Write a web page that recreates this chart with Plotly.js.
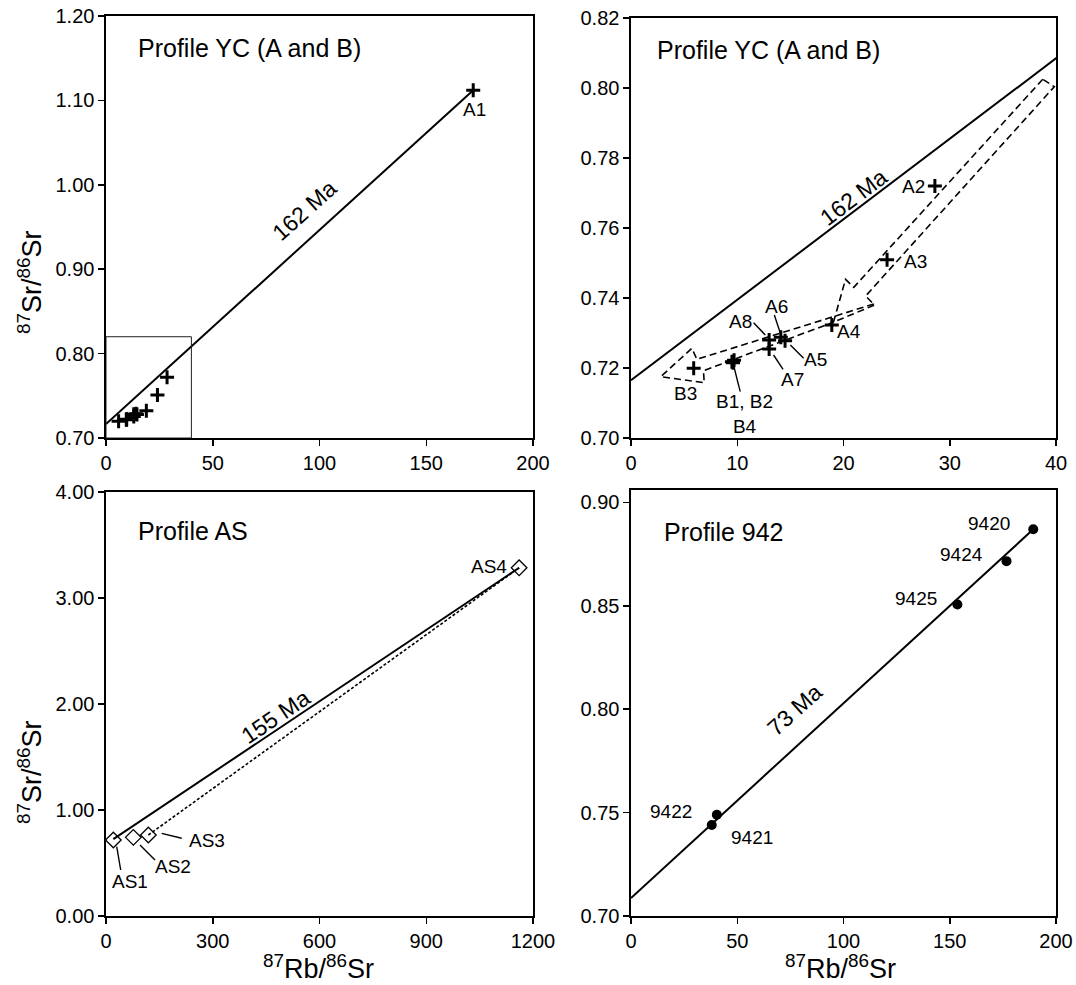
<!DOCTYPE html>
<html>
<head>
<meta charset="utf-8">
<script src="https://cdn.plot.ly/plotly-3.0.1.min.js"></script>
<style>html,body{margin:0;padding:0;background:#fff}#chart{width:1076px;height:985px}</style>
</head>
<body>
<div id="chart"></div>
<script>
// ---- Data ----
// Profile YC (A and B): 87Rb/86Sr and 87Sr/86Sr
const ycNames = ['A1','A2','A3','A4','A5','A6','A7','A8','B1','B2','B3','B4'];
const ycRbSr  = [172.0, 28.6, 24.1, 18.9, 14.5, 14.1, 13.0, 13.0, 9.5, 9.7, 5.9, 9.6];
const ycSrSr  = [1.112, 0.772, 0.7509, 0.7323, 0.7278, 0.7288, 0.7254, 0.7280, 0.7218, 0.7222, 0.7199, 0.7215];
// 162 Ma isochron end points
const iso162X = [0, 172.0];
const iso162Y = [0.7165, 1.112];
// Profile AS
const asNames = ['AS1','AS2','AS3','AS4'];
const asRbSr  = [20.6, 76.8, 119.0, 1161.0];
const asSrSr  = [0.717, 0.742, 0.764, 3.285];
const iso155X = [20.6, 1161.0];
const iso155Y = [0.725, 3.285];
const asFitX  = [119.0, 1161.0];
const asFitY  = [0.764, 3.285];
// Profile 942
const p942Names = ['9420','9424','9425','9422','9421'];
const p942RbSr  = [189.3, 176.7, 153.6, 40.4, 38.0];
const p942SrSr  = [0.887, 0.8716, 0.8506, 0.749, 0.744];
const iso73X = [0, 189.3];
const iso73Y = [0.7087, 0.887];
// Trend arrows (dashed outlines) in Profile YC detail
const arrow1X = [38.75, 20.97, 20.19, 19.06, 22.92, 22.08, 39.84, 38.75];
const arrow1Y = [0.80249, 0.74306, 0.74534, 0.7331, 0.7380, 0.74057, 0.80037, 0.80249];
const arrow2X = [22.86, 6.20, 5.73, 2.80, 6.89, 6.82, 19.06];
const arrow2Y = [0.73829, 0.72249, 0.72563, 0.71751, 0.7158, 0.71923, 0.7331];
// Leader lines (pairs of points)
const leadYCX = [[11.54,12.64],[13.49,14.06],[15.0,16.25],[13.42,14.31],[9.65,10.28]];
const leadYCY = [[0.73294,0.72943],[0.73514,0.72991],[0.72657,0.72277],[0.72371,0.71963],[0.72086,0.71323]];
const leadASX = [[30.1,41.3],[95.5,137.7],[156.5,212.7]];
const leadASY = [[0.654,0.434],[0.670,0.528],[0.780,0.733]];

// ---- Figure ----
const FONT = 'Liberation Sans, Arial, Helvetica, sans-serif';
const W = 1076, H = 985;
const px = v => v / W;
const py = v => 1 - v / H;

const traces = [];
// Top-left
traces.push({x: iso162X, y: iso162Y, xaxis:'x', yaxis:'y', mode:'lines', line:{color:'#000', width:2}, hoverinfo:'skip'});
traces.push({x: ycRbSr, y: ycSrSr, text: ycNames, xaxis:'x', yaxis:'y', mode:'markers',
  marker:{symbol:'cross-thin', size:10, line:{color:'#000', width:3}}});
// Top-right
traces.push({x: iso162X, y: iso162Y, xaxis:'x2', yaxis:'y2', mode:'lines', line:{color:'#000', width:2}, hoverinfo:'skip'});
traces.push({x: arrow1X, y: arrow1Y, xaxis:'x2', yaxis:'y2', mode:'lines', line:{color:'#000', width:1.6, dash:'7px,4px'}});
traces.push({x: arrow2X, y: arrow2Y, xaxis:'x2', yaxis:'y2', mode:'lines', line:{color:'#000', width:1.6, dash:'7px,4px'}});
for (let i = 0; i < leadYCX.length; i++) {
  traces.push({x: leadYCX[i], y: leadYCY[i], xaxis:'x2', yaxis:'y2', mode:'lines', line:{color:'#000', width:1.4}});
}
traces.push({x: ycRbSr, y: ycSrSr, text: ycNames, xaxis:'x2', yaxis:'y2', mode:'markers',
  marker:{symbol:'cross-thin', size:10, line:{color:'#000', width:3}}});
// Bottom-left
traces.push({x: iso155X, y: iso155Y, xaxis:'x3', yaxis:'y3', mode:'lines', line:{color:'#000', width:2}});
traces.push({x: asFitX, y: asFitY, xaxis:'x3', yaxis:'y3', mode:'lines', line:{color:'#000', width:1.6, dash:'3px,2px'}});
for (let i = 0; i < leadASX.length; i++) {
  traces.push({x: leadASX[i], y: leadASY[i], xaxis:'x3', yaxis:'y3', mode:'lines', line:{color:'#000', width:1.4}});
}
traces.push({x: asRbSr, y: asSrSr, text: asNames, xaxis:'x3', yaxis:'y3', mode:'markers',
  marker:{symbol:'diamond-open', size:12, color:'#000', line:{color:'#000', width:1.3}}, cliponaxis:false});
// Bottom-right
traces.push({x: iso73X, y: iso73Y, xaxis:'x4', yaxis:'y4', mode:'lines', line:{color:'#000', width:2}});
traces.push({x: p942RbSr, y: p942SrSr, text: p942Names, xaxis:'x4', yaxis:'y4', mode:'markers',
  marker:{symbol:'circle', size:10, color:'#000'}});

function ax(extra) {
  return Object.assign({
    showline:true, mirror:true, linecolor:'#000', linewidth:1.6,
    ticks:'outside', ticklen:6, tickwidth:1.5, tickcolor:'#000',
    showgrid:false, zeroline:false, fixedrange:true,
    tickfont:{family:FONT, size:20, color:'#000'}
  }, extra);
}

const L = [px(106), px(533)];
const R = [px(631), px(1056)];

const layout = {
  width: W, height: H,
  margin:{l:0, r:0, t:0, b:0},
  paper_bgcolor:'#fff', plot_bgcolor:'#fff',
  showlegend:false,
  font:{family:FONT, color:'#000'},
  xaxis:  ax({domain:L, range:[0,200], tickvals:[0,50,100,150,200], anchor:'y'}),
  yaxis:  ax({domain:[py(438), py(16)], range:[0.70,1.20], tickvals:[0.7,0.8,0.9,1.0,1.1,1.2], tickformat:'.2f', anchor:'x'}),
  xaxis2: ax({domain:R, range:[0,40], tickvals:[0,10,20,30,40], anchor:'y2'}),
  yaxis2: ax({domain:[py(438), py(18)], range:[0.70,0.82], tickvals:[0.70,0.72,0.74,0.76,0.78,0.80,0.82], tickformat:'.2f', anchor:'x2'}),
  xaxis3: ax({domain:L, range:[0,1200], tickvals:[0,300,600,900,1200], anchor:'y3'}),
  yaxis3: ax({domain:[py(916), py(492)], range:[0,4], tickvals:[0,1,2,3,4], tickformat:'.2f', anchor:'x3'}),
  xaxis4: ax({domain:R, range:[0,200], tickvals:[0,50,100,150,200], anchor:'y4'}),
  yaxis4: ax({domain:[py(916), py(490)], range:[0.70,0.906], tickvals:[0.70,0.75,0.80,0.85,0.90], tickformat:'.2f', anchor:'x4'}),
  shapes: [
    {type:'rect', xref:'x', yref:'y', x0:0, x1:40, y0:0.70, y1:0.82, line:{color:'#222', width:1}}
  ],
  annotations: []
};

const A = layout.annotations;
function note(text, x, y, xref, yref, opts) {
  A.push(Object.assign({text:text, x:x, y:y, xref:xref, yref:yref, showarrow:false,
    xanchor:'center', yanchor:'middle',
    font:{family:FONT, size:19, color:'#000'}}, opts || {}));
}
const titleFont = {family:FONT, size:25, color:'#000'};
const axFont = {family:FONT, size:27, color:'#000'};
const ageFont = {family:FONT, size:23, color:'#000'};
// Panel titles
note('Profile YC (A and B)', px(136), py(48), 'paper', 'paper', {xanchor:'left', font:titleFont});
note('Profile YC (A and B)', px(655), py(50), 'paper', 'paper', {xanchor:'left', font:titleFont});
note('Profile AS', px(136), py(531), 'paper', 'paper', {xanchor:'left', font:titleFont});
note('Profile 942', px(662), py(532), 'paper', 'paper', {xanchor:'left', font:titleFont});
// Axis titles
const yTitle = '<sup>87</sup>Sr/<sup>86</sup>Sr';
const xTitle = '<sup>87</sup>Rb/<sup>86</sup>Sr';
note(yTitle, px(30), py(282), 'paper', 'paper', {textangle:-90, font:axFont});
note(yTitle, px(30), py(772), 'paper', 'paper', {textangle:-90, font:axFont});
note(xTitle, px(318), py(967), 'paper', 'paper', {font:axFont});
note(xTitle, px(840), py(967), 'paper', 'paper', {font:axFont});
// Isochron ages
note('162 Ma', 93.2, 0.970, 'x', 'y', {textangle:-42, font:ageFont});
note('162 Ma', 20.97, 0.7689, 'x2', 'y2', {textangle:-37, font:ageFont});
note('155 Ma', 475, 1.88, 'x3', 'y3', {textangle:-34, font:ageFont});
note('73 Ma', 77, 0.7995, 'x4', 'y4', {textangle:-42, font:ageFont});
// Sample labels
note('A1', 172.8, 1.0895, 'x', 'y');
note('A2', 26.63, 0.7718, 'x2', 'y2');
note('A3', 26.8, 0.7504, 'x2', 'y2');
note('A4', 20.5, 0.7304, 'x2', 'y2');
note('A5', 17.36, 0.7223, 'x2', 'y2');
note('A6', 13.68, 0.7375, 'x2', 'y2');
note('A7', 15.16, 0.7166, 'x2', 'y2');
note('A8', 10.28, 0.7332, 'x2', 'y2');
note('B3', 5.09, 0.7128, 'x2', 'y2');
note('B1, B2<br>B4', 10.66, 0.7069, 'x2', 'y2');
note('AS1', 67.4, 0.3236, 'x3', 'y3');
note('AS2', 189, 0.465, 'x3', 'y3');
note('AS3', 285, 0.717, 'x3', 'y3');
note('AS4', 1075, 3.30, 'x3', 'y3');
note('9420', 168.5, 0.890, 'x4', 'y4');
note('9424', 155.5, 0.875, 'x4', 'y4');
note('9425', 134.0, 0.8535, 'x4', 'y4');
note('9422', 19.0, 0.7505, 'x4', 'y4');
note('9421', 57.0, 0.738, 'x4', 'y4');

Plotly.newPlot('chart', traces, layout, {staticPlot:true, displayModeBar:false});
</script>
</body>
</html>
